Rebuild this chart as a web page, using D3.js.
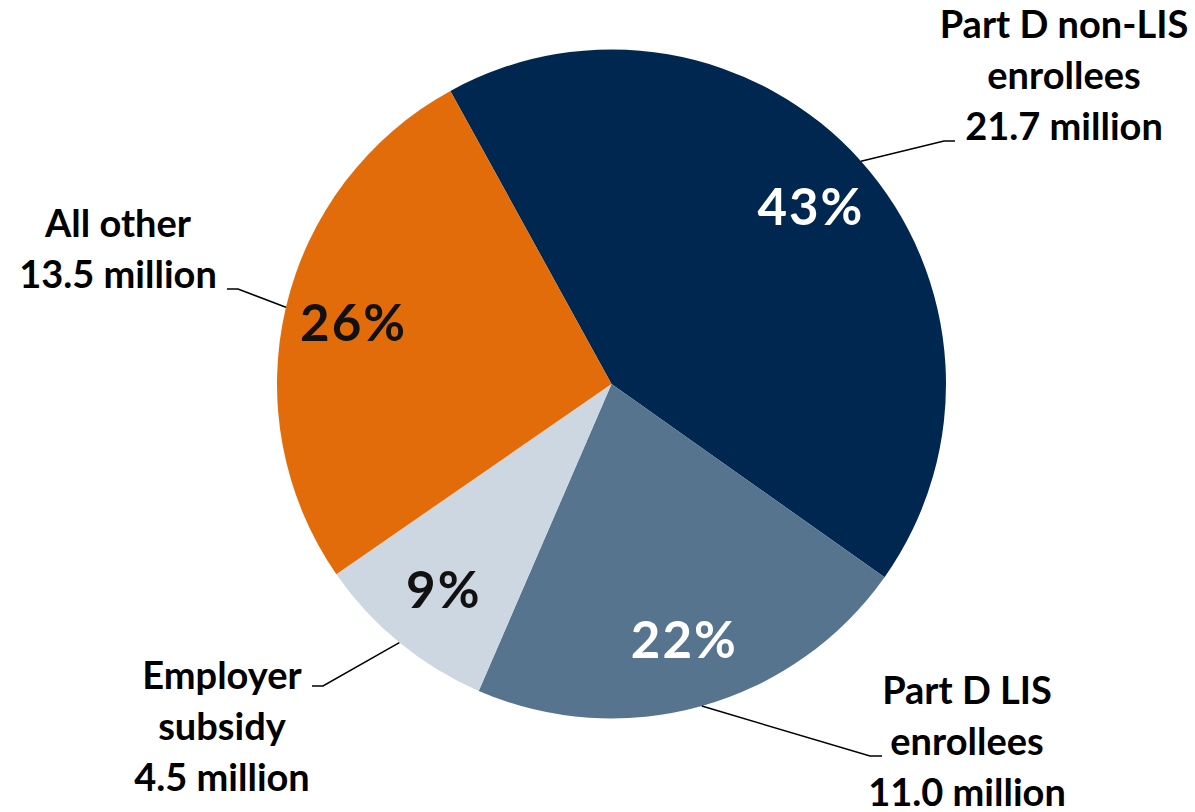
<!DOCTYPE html>
<html>
<head>
<meta charset="utf-8">
<script src="https://cdn.jsdelivr.net/npm/d3@7"></script>
<style>
  body { margin: 0; background: #fff; }
</style>
</head>
<body>
<div id="pie"></div>
<script>
// Data
const categories = ["Part D non-LIS enrollees", "Part D LIS enrollees", "Employer subsidy", "All other"];
const values = [21.7, 11.0, 4.5, 13.5];
const percentLabels = ["43%", "22%", "9%", "26%"];
const nameLines = [
    ["Part D non-LIS", "enrollees", "21.7 million"],
    ["Part D LIS", "enrollees", "11.0 million"],
    ["Employer", "subsidy", "4.5 million"],
    ["All other", "13.5 million"]
];
const colors = ["#00274f", "#57748f", "#cdd7e2", "#e36c0a"];
const pctColors = ["#ffffff", "#ffffff", "#111111", "#111111"];

const width = 1195;
const height = 812;
const cx = 611.5, cy = 384;
const radius = 334.5;

const svg = d3.select("#pie")
    .append("svg")
    .attr("width", width)
    .attr("height", height);

const data = categories.map((c, i) => ({ name: c, value: values[i], i: i }));

// first slice starts a bit before 12 o'clock
const pie = d3.pie()
    .value(d => d.value)
    .sort(null)
    .startAngle(-28.8 * Math.PI / 180)
    .endAngle(-28.8 * Math.PI / 180 + 2 * Math.PI);

const arcs = pie(data);

const arc = d3.arc().innerRadius(0).outerRadius(radius);
const labelArc = d3.arc().innerRadius(266).outerRadius(266);
const edgeArc = d3.arc().innerRadius(radius).outerRadius(radius);

const g = svg.append("g").attr("transform", `translate(${cx}, ${cy})`);

g.selectAll("path.slice")
    .data(arcs)
    .enter()
    .append("path")
    .attr("class", "slice")
    .attr("d", arc)
    .attr("fill", d => colors[d.data.i]);

// percent labels inside slices
g.selectAll("text.pct")
    .data(arcs)
    .enter()
    .append("text")
    .attr("class", "pct")
    .attr("transform", d => `translate(${labelArc.centroid(d)})`)
    .attr("text-anchor", "middle")
    .attr("dx", 1)
    .attr("dy", "0.36em")
    .style("font-family", "Lato, sans-serif")
    .style("font-weight", 700)
    .style("font-size", "51px")
    .style("letter-spacing", "2px")
    .attr("fill", d => pctColors[d.data.i])
    .text(d => percentLabels[d.data.i]);

// outside labels: text block centre x, first baseline, and leader line elbow/end
const labelPos = [
    { x: 1064, y: 38, lead: [955, 141], elbow: [944, 141] },
    { x: 967, y: 704, lead: [882, 756], elbow: [870, 756] },
    { x: 222, y: 689, lead: [312, 686], elbow: [323, 686] },
    { x: 118, y: 237, lead: [227, 289], elbow: [238, 289] }
];

arcs.forEach(a => {
    const p = labelPos[a.data.i];
    const t = svg.append("text")
        .attr("text-anchor", "middle")
        .style("font-family", "Lato, sans-serif")
        .style("font-weight", 700)
        .style("font-size", "38px")
        .attr("fill", "#000");
    nameLines[a.data.i].forEach((line, k) => {
        t.append("tspan")
            .attr("x", p.x)
            .attr("y", p.y + k * 51)
            .text(line);
    });

    // leader line from the middle of the slice's outer edge
    const c = edgeArc.centroid(a);
    const edge = [cx + c[0], cy + c[1]];
    svg.append("polyline")
        .attr("points", [edge, p.elbow, p.lead].map(q => q.join(",")).join(" "))
        .attr("fill", "none")
        .attr("stroke", "#000")
        .attr("stroke-width", 1.5);
});
</script>
</body>
</html>
